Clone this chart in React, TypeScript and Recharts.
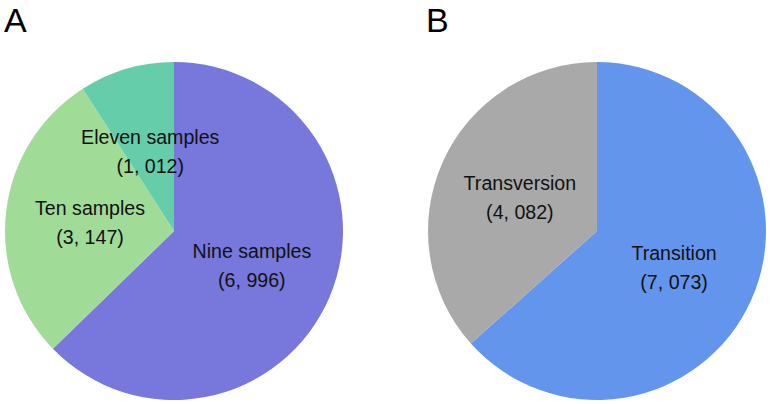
import { Cell, Pie, PieChart } from "recharts";

// panel A: SNVs shared by number of samples
const sampleNames = ["Nine samples", "Ten samples", "Eleven samples"];
const sampleCounts = [6996, 3147, 1012];
const sampleColors = ["#7777dc", "#a0dc98", "#66cdaa"];

// panel B: mutation type
const typeNames = ["Transition", "Transversion"];
const typeCounts = [7073, 4082];
const typeColors = ["#6495ed", "#a9a9a9"];

const RADIAN = Math.PI / 180;
const FONT = "'Liberation Sans', Arial, sans-serif";

function formatCount(v: number): string {
  const thousands = Math.floor(v / 1000);
  const rest = String(v % 1000).padStart(3, "0");
  return `${thousands}, ${rest}`;
}

interface LabelProps {
  cx: number;
  cy: number;
  midAngle: number;
  outerRadius: number;
  name: string;
  value: number;
}

function renderLabel({ cx, cy, midAngle, outerRadius, name, value }: LabelProps) {
  const r = outerRadius * 0.5;
  const x = cx + r * Math.cos(-midAngle * RADIAN);
  const y = cy + r * Math.sin(-midAngle * RADIAN) + 1.5;
  return (
    <g>
      <text
        x={x}
        y={y - 14.5}
        textAnchor="middle"
        dominantBaseline="central"
        fontFamily={FONT}
        fontSize={19.6}
        fill="#111"
      >
        {name}
      </text>
      <text
        x={x}
        y={y + 14.5}
        textAnchor="middle"
        dominantBaseline="central"
        fontFamily={FONT}
        fontSize={19.6}
        fill="#111"
      >
        {`(${formatCount(value)})`}
      </text>
    </g>
  );
}

const panelLetter = {
  position: "absolute" as const,
  top: 0,
  fontFamily: FONT,
  fontSize: 34,
  lineHeight: "40px",
  color: "#000",
};

export default function App() {
  const dataA = sampleNames.map((name, i) => ({ name, value: sampleCounts[i] }));
  const dataB = typeNames.map((name, i) => ({ name, value: typeCounts[i] }));

  return (
    <div
      style={{
        position: "absolute",
        left: 0,
        top: 0,
        width: 770,
        height: 404,
        background: "#fff",
      }}
    >
      <PieChart width={770} height={404} margin={{ top: 0, right: 0, bottom: 0, left: 0 }}>
        <Pie
          data={dataA}
          dataKey="value"
          nameKey="name"
          cx={174}
          cy={231}
          outerRadius={169}
          startAngle={90}
          endAngle={-270}
          stroke="none"
          label={renderLabel}
          labelLine={false}
          isAnimationActive={false}
        >
          {dataA.map((d, i) => (
            <Cell key={d.name} fill={sampleColors[i]} />
          ))}
        </Pie>
        <Pie
          data={dataB}
          dataKey="value"
          nameKey="name"
          cx={597}
          cy={231}
          outerRadius={169}
          startAngle={90}
          endAngle={-270}
          stroke="none"
          label={renderLabel}
          labelLine={false}
          isAnimationActive={false}
        >
          {dataB.map((d, i) => (
            <Cell key={d.name} fill={typeColors[i]} />
          ))}
        </Pie>
      </PieChart>
      <div style={{ ...panelLetter, left: 4 }}>A</div>
      <div style={{ ...panelLetter, left: 426 }}>B</div>
    </div>
  );
}
